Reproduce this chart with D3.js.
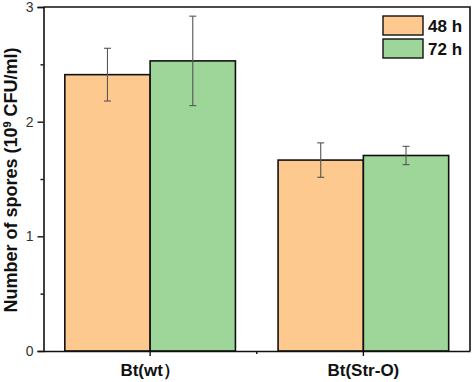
<!DOCTYPE html>
<html><head><meta charset="utf-8">
<script src="https://cdn.jsdelivr.net/npm/d3@7"></script>
<style>body{margin:0;background:#fff}svg{display:block}text{font-family:"Liberation Sans",Arial,sans-serif}</style>
</head><body>
<svg id="c" width="474" height="382"></svg>
<script>
const categories = ["Bt(wt）", "Bt(Str-O)"];
const seriesNames = ["48 h", "72 h"];
const values48 = [2.41, 1.665];
const errors48 = [0.23, 0.15];
const values72 = [2.53, 1.705];
const errors72 = [0.39, 0.08];
const yTicks = [0, 1, 2, 3];
const colors = ["#fec98e", "#9ed69a"];

const svg = d3.select("#c");
const m = {l: 43.5, r: 470, t: 7, b: 351};
const y = d3.scaleLinear().domain([0, 3]).range([m.b, m.t]);
const x = d3.scaleBand().domain(categories).range([m.l, m.r]).paddingInner(0.2).paddingOuter(0.1);
const xs = d3.scaleBand().domain(seriesNames).range([0, x.bandwidth()]);

const data = [];
categories.forEach((c, i) => {
  data.push({c, s: seriesNames[0], v: values48[i], e: errors48[i], col: colors[0]});
  data.push({c, s: seriesNames[1], v: values72[i], e: errors72[i], col: colors[1]});
});

// bars
svg.append("g").selectAll("rect").data(data).join("rect")
  .attr("x", d => x(d.c) + xs(d.s))
  .attr("y", d => y(d.v))
  .attr("width", xs.bandwidth())
  .attr("height", d => y(0) - y(d.v))
  .attr("fill", d => d.col)
  .attr("stroke", "#111").attr("stroke-width", 1.6);

// error bars
const eg = svg.append("g").attr("stroke", "#555").attr("stroke-width", 1.1);
data.forEach(d => {
  const cx = x(d.c) + xs(d.s) + xs.bandwidth() / 2;
  eg.append("line").attr("x1", cx).attr("x2", cx).attr("y1", y(d.v + d.e)).attr("y2", y(d.v - d.e));
  eg.append("line").attr("x1", cx - 3.5).attr("x2", cx + 3.5).attr("y1", y(d.v + d.e)).attr("y2", y(d.v + d.e));
  eg.append("line").attr("x1", cx - 3.5).attr("x2", cx + 3.5).attr("y1", y(d.v - d.e)).attr("y2", y(d.v - d.e));
});

// frame top/right
svg.append("path").attr("d", `M${m.l},${m.t}H${m.r}V${m.b}`).attr("fill", "none").attr("stroke", "#111").attr("stroke-width", 1.6);

// y axis
const ya = svg.append("g").attr("transform", `translate(${m.l},0)`)
  .call(d3.axisLeft(y).tickValues(yTicks).tickFormat(d3.format("d")).tickSize(6).tickPadding(4));
ya.select(".domain").attr("stroke", "#111").attr("stroke-width", 1.6);
ya.selectAll(".tick line").attr("stroke", "#111").attr("stroke-width", 1.4);
ya.selectAll(".tick text").attr("font-size", 14).attr("fill", "#333").attr("font-family", "Liberation Sans, Arial");
svg.append("g").attr("transform", `translate(${m.l},0)`)
  .call(d3.axisLeft(y).tickValues([0.5, 1.5, 2.5]).tickFormat("").tickSize(3))
  .call(g => { g.select(".domain").remove(); g.selectAll("line").attr("stroke", "#111").attr("stroke-width", 1.4); });

// x axis
const xa = svg.append("g").attr("transform", `translate(0,${m.b})`)
  .call(d3.axisBottom(x).tickSize(5).tickPadding(8).tickSizeOuter(0));
xa.select(".domain").attr("stroke", "#111").attr("stroke-width", 1.6);
xa.selectAll(".tick line").attr("stroke", "#111").attr("stroke-width", 1.4);
xa.selectAll(".tick text").attr("font-size", 17).attr("font-weight", "bold").attr("fill", "#111")
  .attr("font-family", "Liberation Sans, Arial").attr("dy", "0.72em");
// minor tick between categories
const midX = (x(categories[0]) + x.bandwidth() + x(categories[1])) / 2;
svg.append("line").attr("x1", midX).attr("x2", midX).attr("y1", m.b).attr("y2", m.b + 3).attr("stroke", "#111").attr("stroke-width", 1.4);

// y label
const yl = svg.append("text").attr("transform", `translate(17,${(m.t + m.b) / 2 + 1}) rotate(-90)`)
  .attr("text-anchor", "middle").attr("font-size", 18).attr("font-weight", "bold").attr("fill", "#111");
yl.append("tspan").text("Number of spores (10");
yl.append("tspan").text("9").attr("font-size", 11).attr("dy", -6);
yl.append("tspan").text(" CFU/ml)").attr("dy", 6);

// legend
const lg = svg.append("g");
seriesNames.forEach((s, i) => {
  lg.append("rect").attr("x", 383).attr("y", 16 + i * 23).attr("width", 40).attr("height", 19)
    .attr("fill", colors[i]).attr("stroke", "#111").attr("stroke-width", 1.4);
  lg.append("text").attr("x", 428).attr("y", 32 + i * 23).text(s)
    .attr("font-size", 17).attr("font-weight", "bold").attr("fill", "#111");
});
</script>
</body></html>
